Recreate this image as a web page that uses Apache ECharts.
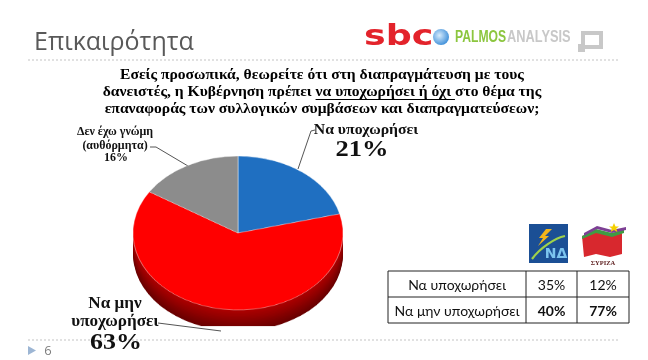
<!DOCTYPE html>
<html>
<head>
<meta charset="utf-8">
<script src="https://cdn.jsdelivr.net/npm/echarts/dist/echarts.min.js"></script>
<style>
html,body{margin:0;padding:0;background:#fff;}
#wrap{position:relative;width:648px;height:360px;overflow:hidden;background:#fff;}
#main,#pie{position:absolute;left:0;top:0;width:648px;height:360px;}
#pie{transform-origin:238px 233px;transform:scaleY(0.733);}
</style>
</head>
<body>
<div id="wrap"><div id="main"></div><div id="pie"></div></div>
<script>
// ---- data ----
const pageTitle = 'Επικαιρότητα';
const questionLines = [
  'Εσείς προσωπικά, θεωρείτε ότι στη διαπραγμάτευση με τους',
  'δανειστές, η Κυβέρνηση πρέπει να υποχωρήσει ή όχι στο θέμα της',
  'επαναφοράς των συλλογικών συμβάσεων και διαπραγματεύσεων;'
];
const underlinedPhrase = 'να υποχωρήσει ή όχι ';
const categories = ['Να υποχωρήσει', 'Να μην υποχωρήσει', 'Δεν έχω γνώμη (αυθόρμητα)'];
const sliceLabels = ['Να υποχωρήσει', 'Να μην\nυποχωρήσει', 'Δεν έχω γνώμη\n(αυθόρμητα)'];
const values = [21, 63, 16];
const sliceColors = ['#1f6fc1', '#ff0000', '#8c8c8c'];
const tableRows = ['Να υποχωρήσει', 'Να μην υποχωρήσει'];
const ndValues = [35, 40];
const syrizaValues = [12, 77];
const pageNumber = '6';

// ---- pie (drawn on a vertically squashed layer for the tilted look) ----
const S = 0.733, CX = 238, CY = 233, R = 105, DEPTH = 21 / S, N = 14;
function lerp(a, b, t) { return Math.round(a + (b - a) * t); }
function sideColor(j, t) {
  const top = [[20, 70, 130], [176, 0, 0], [90, 90, 90]][j];
  const bot = [[10, 40, 80], [105, 0, 0], [55, 55, 55]][j];
  return 'rgb(' + lerp(top[0], bot[0], t) + ',' + lerp(top[1], bot[1], t) + ',' + lerp(top[2], bot[2], t) + ')';
}
const pieSeries = [];
for (let i = N; i >= 1; i--) {
  const t = i / N;
  pieSeries.push({
    type: 'pie', center: [CX, CY + DEPTH * t], radius: R, startAngle: 90, clockwise: true,
    silent: true, z: 2 + (N - i), label: { show: false }, labelLine: { show: false },
    emphasis: { disabled: true },
    data: categories.map((c, j) => ({ name: c, value: values[j], itemStyle: { color: sideColor(j, t) } }))
  });
}
pieSeries.push({
  type: 'pie', center: [CX, CY], radius: R, startAngle: 90, clockwise: true,
  silent: true, z: 50, label: { show: false }, labelLine: { show: false },
  emphasis: { disabled: true },
  itemStyle: { borderColor: 'rgba(255,255,255,0.55)', borderWidth: 0.8 },
  data: categories.map((c, j) => ({ name: c, value: values[j], itemStyle: { color: sliceColors[j] } }))
});
const pie = echarts.init(document.getElementById('pie'), null, { renderer: 'canvas' });
pie.setOption({ animation: false, series: pieSeries });

// ---- everything else ----
const SERIF = '"Liberation Serif", "DejaVu Serif", serif';
const SANS = 'Lato, "Noto Sans", "Liberation Sans", sans-serif';
const mctx = document.createElement('canvas').getContext('2d');
function fontStr(size, weight, family) { return (weight || 'normal') + ' ' + size + 'px ' + (family || SANS); }
function measure(text, font) { mctx.font = font; return mctx.measureText(text).width; }
function txt(text, x, y, size, opts) {
  opts = opts || {};
  return {
    type: 'text', x: x, y: y, z: opts.z || 10, scaleX: opts.scaleX || 1, scaleY: 1,
    style: {
      text: text, fill: opts.color || '#000',
      font: fontStr(size, opts.weight, opts.family),
      align: opts.align || 'center', textAlign: opts.align || 'center',
      verticalAlign: 'middle', textVerticalAlign: 'middle',
      lineHeight: opts.lineHeight || undefined
    }
  };
}
function line(points, color, width, dash) {
  return { type: 'polyline', z: 5, shape: { points: points },
    style: { stroke: color, lineWidth: width || 1, lineDash: dash || null, fill: null } };
}
const g = [];
// header
g.push(txt(pageTitle, 34, 43, 25, { align: 'left', color: '#595959', family: '"Open Sans", sans-serif' }));
g.push(line([[28, 60], [620, 60]], '#c4c4c4', 1, [2, 2]));
// logos
g.push(txt('sbc', 364, 38, 28, { align: 'left', color: '#e3232b', weight: 'bold', family: '"DejaVu Sans", sans-serif', scaleX: 1.3 }));
g.push({ type: 'circle', z: 11, shape: { cx: 441, cy: 37, r: 8 },
  style: { fill: new echarts.graphic.RadialGradient(0.4, 0.4, 0.7, [{ offset: 0, color: '#d6ebfc' }, { offset: 1, color: '#2f86d6' }]) } });
const palmosW = measure('PALMOS', fontStr(16, 'bold', '"Liberation Sans", sans-serif')) * 0.76;
g.push(txt('PALMOS', 455, 38, 16, { align: 'left', color: '#8cc63f', weight: 'bold', family: '"Liberation Sans", sans-serif', scaleX: 0.76 }));
g.push(txt('ANALYSIS', 455 + palmosW + 1, 38, 16, { align: 'left', color: '#c8c8c8', weight: 'bold', family: '"Liberation Sans", sans-serif', scaleX: 0.8 }));
g.push({ type: 'rect', z: 10, shape: { x: 583, y: 33, width: 18, height: 14 }, style: { fill: null, stroke: '#c8c8c8', lineWidth: 4 } });
g.push({ type: 'rect', z: 10, shape: { x: 578, y: 44, width: 7, height: 8 }, style: { fill: '#c8c8c8' } });
// question
const qY = [75, 92, 109], qX = 322, qSize = 15, qSX = 1.04;
questionLines.forEach((l, i) => g.push(txt(l, qX, qY[i], qSize, { weight: 'bold', family: SERIF, scaleX: qSX })));
(function () {
  const f = fontStr(qSize, 'bold', SERIF);
  const full = questionLines[1];
  const idx = full.indexOf(underlinedPhrase.trim());
  const W = measure(full, f) * qSX;
  const x0 = qX - W / 2 + measure(full.slice(0, idx), f) * qSX;
  const x1 = x0 + measure(underlinedPhrase, f) * qSX;
  g.push(line([[x0, 99.5], [x1, 99.5]], '#000', 1));
})();
// slice labels
g.push(txt(sliceLabels[0], 366, 130, 15, { weight: 'bold', family: SERIF, color: '#111', scaleX: 1.05 }));
g.push(txt(values[0] + '%', 362, 150, 23, { weight: 'bold', family: SERIF, color: '#111', scaleX: 1.15 }));
g.push(line([[315, 130], [311, 131], [298, 169]], '#555', 1));
g.push(txt(sliceLabels[2], 115, 139, 11.5, { weight: 'bold', family: SERIF, color: '#111', lineHeight: 14, scaleX: 1.04 }));
g.push(txt(values[2] + '%', 116, 158, 11.5, { weight: 'bold', family: SERIF, color: '#111', scaleX: 1.04 }));
g.push(line([[150, 147], [156, 147], [188, 166]], '#555', 1));
g.push(txt(sliceLabels[1], 115, 313, 16, { weight: 'bold', family: SERIF, color: '#111', lineHeight: 18, scaleX: 1.07 }));
g.push(txt(values[1] + '%', 116, 343, 24, { weight: 'bold', family: SERIF, color: '#111', scaleX: 1.08 }));
g.push(line([[158, 323], [221, 331]], '#555', 1));
// party logos
g.push({ type: 'rect', z: 10, shape: { x: 529, y: 224, width: 39, height: 39 }, style: { fill: '#1b4f95' } });
g.push({ type: 'polygon', z: 11, shape: { points: [[546, 229], [552, 229], [545, 236], [549, 236], [538, 246], [543, 238], [539, 238]] }, style: { fill: '#f2b51b' } });
g.push({ type: 'bezierCurve', z: 11, shape: { x1: 532, y1: 259, x2: 565, y2: 236, cpx1: 540, cpy1: 248, cpx2: 555, cpy2: 238 }, style: { stroke: '#9fd14a', lineWidth: 2.2, fill: null } });
g.push(txt('ΝΔ', 556, 254, 14, { color: '#7cc4ef', weight: 'bold', family: '"DejaVu Sans", sans-serif' }));
g.push({ type: 'polygon', z: 10, shape: { points: [[582, 236], [596, 232], [612, 236], [622, 233], [622, 254], [610, 257], [596, 254], [584, 257]] }, style: { fill: '#d8282e' } });
g.push({ type: 'polygon', z: 11, shape: { points: [[582, 236], [596, 229], [612, 233], [624, 229], [624, 233], [612, 237], [596, 233], [582, 239]] }, style: { fill: '#3f9b43' } });
g.push({ type: 'polygon', z: 11, shape: { points: [[584, 233], [597, 226], [612, 230], [626, 227], [626, 230], [612, 233], [597, 229], [584, 236]] }, style: { fill: '#7d3f94' } });
g.push({ type: 'polygon', z: 12, shape: { points: [[614, 223], [615.5, 226.5], [619, 226.5], [616.3, 228.6], [617.3, 232], [614, 230], [610.7, 232], [611.7, 228.6], [609, 226.5], [612.5, 226.5]] }, style: { fill: '#f5d000' } });
g.push(txt('ΣΥΡΙΖΑ', 603, 263, 6.5, { color: '#5a1a1a', weight: 'bold', family: SERIF }));
// table
const tL = 388, tR = 629, tT = 271, tM = 297, tB = 323, c1 = 526, c2 = 577;
g.push({ type: 'rect', z: 10, shape: { x: tL, y: tT, width: tR - tL, height: tB - tT }, style: { fill: null, stroke: '#222', lineWidth: 1 } });
g.push(line([[tL, tM], [tR, tM]], '#222', 1));
g.push(line([[c1, tT], [c1, tB]], '#222', 1));
g.push(line([[c2, tT], [c2, tB]], '#222', 1));
const rowY = [285, 311];
tableRows.forEach((r, i) => {
  const w = i === 1 ? 'bold' : 'normal';
  g.push(txt(r, (tL + c1) / 2, rowY[i], 14, { color: '#111' }));
  g.push(txt(ndValues[i] + '%', (c1 + c2) / 2, rowY[i], 14, { color: '#111', weight: w }));
  g.push(txt(syrizaValues[i] + '%', (c2 + tR) / 2, rowY[i], 14, { color: '#111', weight: w }));
});
// footer
g.push(line([[28, 340], [620, 340]], '#c4c4c4', 1, [2, 2]));
g.push({ type: 'polygon', z: 10, shape: { points: [[28, 346], [36, 350.5], [28, 355]] }, style: { fill: '#9db6d4' } });
g.push(txt(pageNumber, 48, 351, 13, { color: '#7f7f7f', family: '"Open Sans", sans-serif' }));

const main = echarts.init(document.getElementById('main'), null, { renderer: 'canvas' });
main.setOption({ animation: false, backgroundColor: '#fff', graphic: g });
</script>
</body>
</html>
